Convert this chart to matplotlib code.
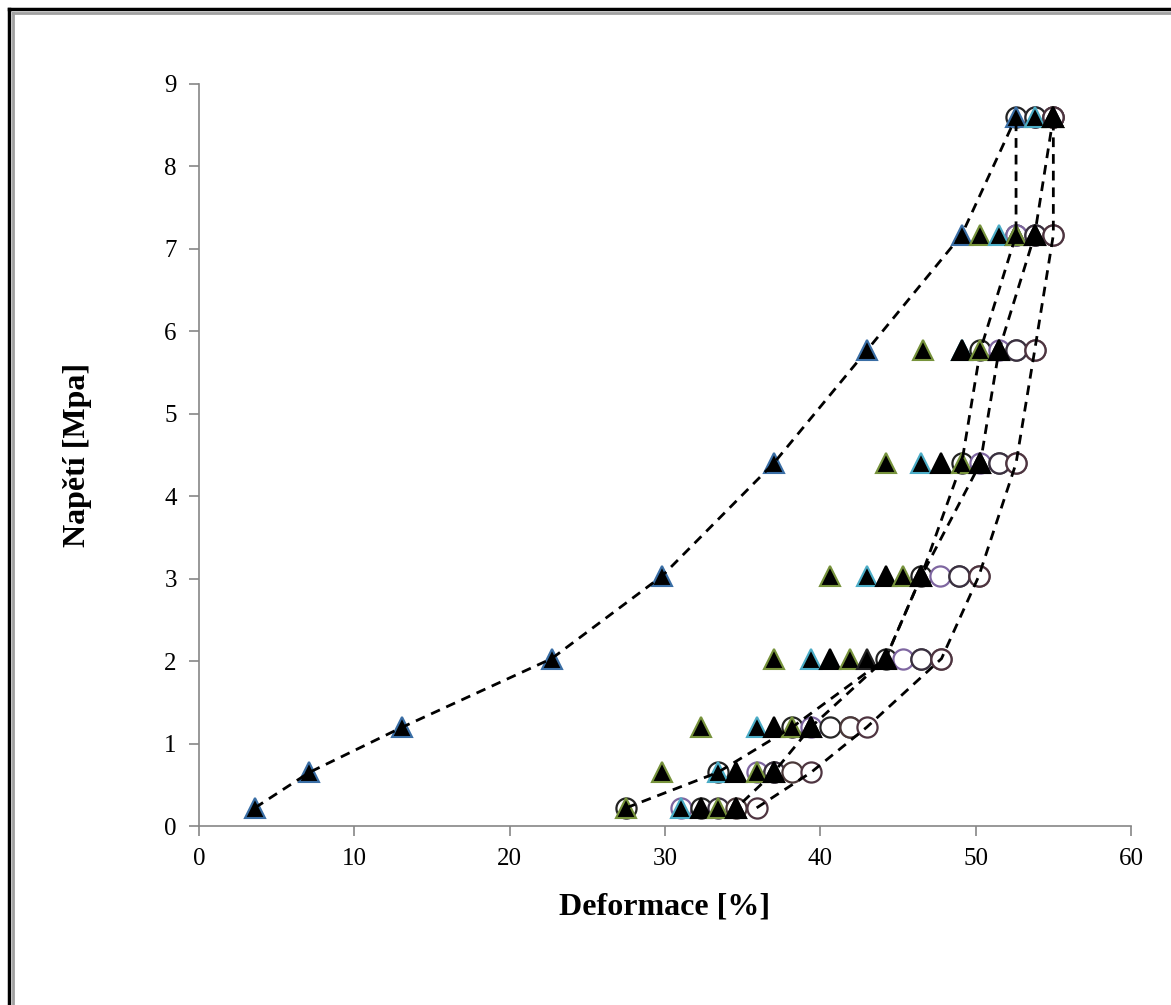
import matplotlib.pyplot as plt
from matplotlib.lines import Line2D

plt.rcParams['font.family'] = ['Liberation Serif', 'DejaVu Serif']

# stress levels [MPa], common to all series
napeti = [0.22, 0.65, 1.2, 2.03, 3.03, 4.4, 5.77, 7.17, 8.6]

# deformation [%] per cycle, loading (triangles)
zat_1 = [3.6, 7.1, 13.1, 22.7, 29.8, 37.0, 43.0, 49.1, 52.6]
zat_2 = [27.5, 29.8, 32.3, 37.0, 40.6, 44.2, 46.6, 50.3, 53.8]
zat_3 = [31.0, 33.4, 35.9, 39.4, 43.0, 46.5, 49.1, 51.5, 53.8]
zat_4 = [32.3, 34.6, 37.0, 40.6, 44.2, 47.8, 49.1, 52.6, 55.0]
zat_5 = [33.4, 35.9, 38.2, 41.9, 45.3, 49.1, 50.3, 52.6, 55.0]
zat_6 = [34.6, 37.0, 39.4, 43.0, 46.5, 50.3, 51.5, 53.8, 55.0]
zat_7 = [34.6, 37.0, 39.4, 44.2, 46.5, 50.3, 51.5, 53.8, 55.0]

# unloading (circles)
odl_1 = [27.5, 33.4, 38.2, 44.2, 46.5, 49.1, 50.3, 52.6, 52.6]
odl_2 = [31.0, 35.9, 39.4, 45.3, 47.7, 50.3, 51.5, 52.6, 53.8]
odl_3 = [32.3, 37.0, 40.6, 46.5, 48.9, 51.5, 52.6, 53.8, 53.8]
odl_4 = [33.4, 37.0, 41.9, 46.5, 48.9, 51.5, 52.6, 53.8, 55.0]
odl_5 = [34.6, 38.2, 41.9, 47.8, 50.2, 52.6, 53.8, 55.0, 55.0]
odl_6 = [35.9, 39.4, 43.0, 47.8, 50.2, 52.6, 53.8, 55.0, 55.0]

zatizeni = [zat_1, zat_2, zat_3, zat_4, zat_5, zat_6, zat_7]
zat_barvy = ['#3A6EA5', '#77933C', '#4BACC6', 'black', '#77933C', '#222222', 'black']
odlehceni = [odl_1, odl_2, odl_3, odl_4, odl_5, odl_6]
odl_barvy = ['#222222', '#7E66A0', '#262626', '#3A3040', '#4A3838', '#4E3440']

W, H = 1171, 1005
fig = plt.figure(figsize=(W / 100, H / 100), dpi=100)
ax = fig.add_axes([199 / W, 1 - 826 / H, (1131 - 199) / W, (826 - 84) / H])

# interleave loading / unloading so later cycles sit on top
for i in range(len(zatizeni)):
    ax.plot(zatizeni[i], napeti, ls='none', marker='^', ms=15, mfc='black',
            mec=zat_barvy[i], mew=1.5, zorder=3 + 2 * i)
    if i < len(odlehceni):
        ax.plot(odlehceni[i], napeti, ls='none', marker='o', ms=14.5, mfc='white',
                mec=odl_barvy[i], mew=1.6, zorder=2 + 2 * i)

# dashed series lines: first and last cycle
for xs, faze in [(zat_1, 0), (odl_1, 0), (zat_7, 3), (odl_6, 0)]:
    ax.plot(xs, napeti, color='black', lw=2, ls=(faze, (3.5, 2.5)), zorder=30)

ax.set_xlim(0, 60)
ax.set_ylim(0, 9)
ax.set_xticks(range(0, 61, 10))
ax.set_yticks(range(0, 10))
for s in ['top', 'right']:
    ax.spines[s].set_visible(False)
for s in ['left', 'bottom']:
    ax.spines[s].set_color('#868686')
    ax.spines[s].set_linewidth(1.2)
ax.tick_params(direction='out', length=7, width=1.2, color='#868686',
               labelsize=18, pad=9)

ax.set_xlabel('Deformace [%]', fontsize=23, fontweight='bold', labelpad=16)
ax.set_ylabel('Napětí [Mpa]', fontsize=23, fontweight='bold', labelpad=52)

# chart frame
fig.add_artist(Line2D([9 / W, 9 / W], [0, 1 - 9 / H], transform=fig.transFigure,
                      color='black', lw=2.5))
fig.add_artist(Line2D([9 / W, 1], [1 - 9 / H, 1 - 9 / H], transform=fig.transFigure,
                      color='black', lw=2.5))
fig.add_artist(Line2D([13 / W, 13 / W], [0, 1 - 13 / H], transform=fig.transFigure,
                      color='#A0A0A0', lw=2))
fig.add_artist(Line2D([13 / W, 1], [1 - 13 / H, 1 - 13 / H], transform=fig.transFigure,
                      color='#A0A0A0', lw=2))

fig.savefig('out.png', dpi=100)
